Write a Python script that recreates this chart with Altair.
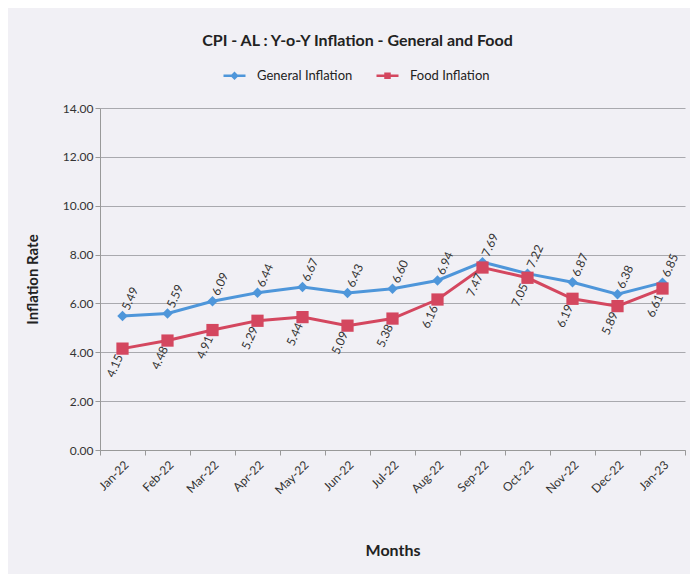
import altair as alt
import pandas as pd

months = ["Jan-22", "Feb-22", "Mar-22", "Apr-22", "May-22", "Jun-22", "Jul-22",
          "Aug-22", "Sep-22", "Oct-22", "Nov-22", "Dec-22", "Jan-23"]
general = [5.49, 5.59, 6.09, 6.44, 6.67, 6.43, 6.60, 6.94, 7.69, 7.22, 6.87, 6.38, 6.85]
food = [4.15, 4.48, 4.91, 5.29, 5.44, 5.09, 5.38, 6.16, 7.47, 7.05, 6.19, 5.89, 6.61]
series = ["General Inflation", "Food Inflation"]
colors = ["#4E96DA", "#D4475F"]

rows = []
for m, g, f in zip(months, general, food):
    rows.append({"Month": m, "Series": series[0], "Value": g})
    rows.append({"Month": m, "Series": series[1], "Value": f})
df = pd.DataFrame(rows)

FONT = "Lato"

x = alt.X("Month:N", sort=months, title="Months",
          scale=alt.Scale(type="band", paddingInner=0, paddingOuter=0),
          axis=alt.Axis(labelAngle=-45, labelAlign="right", labelBaseline="top",
                        tickBand="extent", titleFontSize=16, titleFontWeight="bold",
                        titlePadding=46, labelFontSize=12, labelColor="#333333",
                        domainColor="#999999", tickColor="#999999", tickSize=5,
                        labelPadding=4, grid=False))
y = alt.Y("Value:Q", title="Inflation Rate",
          scale=alt.Scale(domain=[0, 14], nice=False),
          axis=alt.Axis(values=[0, 2, 4, 6, 8, 10, 12, 14], format=".2f",
                        titleFontSize=15, titleFontWeight="bold", titlePadding=22,
                        labelFontSize=12, labelColor="#333333", domainColor="#999999",
                        tickColor="#999999", tickSize=5, gridColor="#a9a9ae",
                        gridWidth=1))
color_scale = alt.Scale(domain=series, range=colors)

base = alt.Chart(df)

legend_paths = [
    "M-2.2,-0.25H2.2V0.25H-2.2Z M0,-0.85L0.85,0L0,0.85L-0.85,0Z",
    "M-2.2,-0.25H2.2V0.25H-2.2Z M-0.65,-0.65H0.65V0.65H-0.65Z",
]
legend_layer = base.mark_point(filled=True, opacity=1).encode(
    x=x, y=y,
    color=alt.Color("Series:N", scale=color_scale, title=None,
                    legend=alt.Legend(orient="none", legendX=120, legendY=-39,
                                      direction="horizontal", symbolSize=100,
                                      symbolStrokeWidth=0, labelOffset=16,
                                      labelFontSize=13, labelColor="#222222",
                                      columnPadding=20, symbolOffset=8)),
    shape=alt.Shape("Series:N", scale=alt.Scale(domain=series, range=legend_paths),
                    title=None),
).transform_filter("false")

lines = base.mark_line(strokeWidth=3).encode(
    x=x, y=y, color=alt.Color("Series:N", scale=color_scale, legend=None))

gen_points = base.mark_point(filled=True, opacity=1, shape="diamond", size=110).encode(
    x=x, y=y, color=alt.Color("Series:N", scale=color_scale, legend=None)
).transform_filter(alt.datum.Series == series[0])

food_points = base.mark_point(filled=True, opacity=1, shape="square", size=150).encode(
    x=x, y=y, color=alt.Color("Series:N", scale=color_scale, legend=None)
).transform_filter(alt.datum.Series == series[1])

gen_labels = base.mark_text(angle=294, align="left", baseline="middle", dx=7,
                            fontSize=12, color="#333333", font=FONT).encode(
    x=x, y=y, text=alt.Text("Value:Q", format=".2f")
).transform_filter(alt.datum.Series == series[0])

food_labels = base.mark_text(angle=294, align="right", baseline="middle", dx=-7,
                             fontSize=12, color="#333333", font=FONT).encode(
    x=x, y=y, text=alt.Text("Value:Q", format=".2f")
).transform_filter(alt.datum.Series == series[1])

chart = alt.layer(legend_layer, lines, gen_points, food_points, gen_labels, food_labels).properties(
    width=585, height=342,
    autosize=alt.AutoSizeParams(type="none"),
    padding={"left": 92, "top": 100, "right": 5, "bottom": 124},
    background="#f1f0f5",
    title=alt.TitleParams("CPI - AL : Y-o-Y Inflation - General and Food",
                          fontSize=16, fontWeight="bold", color="#222222",
                          anchor="middle", dx=-35, offset=20, font=FONT),
).configure(font=FONT).configure_view(stroke=None).configure_axis(
    labelFont=FONT, titleFont=FONT, titleColor="#222222"
).configure_legend(labelFont=FONT)

chart.save("out.html", embed_options={"renderer": "svg", "actions": False})
